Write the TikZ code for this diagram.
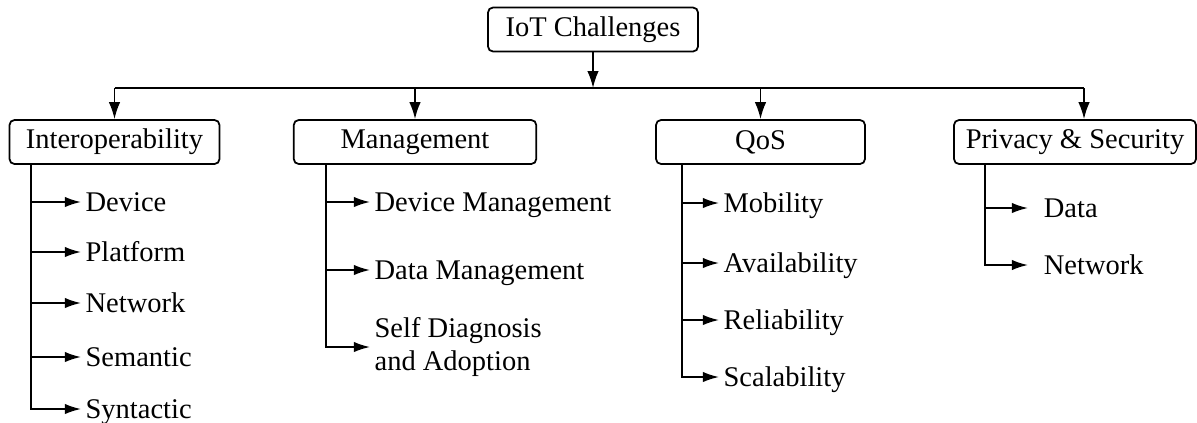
\documentclass[tikz,border=0pt]{standalone}
\usepackage{fontspec}
\setmainfont{Liberation Serif}
\usetikzlibrary{arrows.meta}
\begin{document}
\begin{tikzpicture}
	[
	x=0.4pt, y=-0.4pt,
	font=\fontsize{11.4}{13.2}\selectfont,
	line width=0.7pt,
	box/.style={draw=black, fill=white, rounded corners=2pt, minimum height=17.6pt, inner xsep=2pt},
	leaf/.style={anchor=west, inner xsep=1.5pt, text height=7.6pt, text depth=0pt},
	big/.style={-{Latex[length=6.8pt, width=4.6pt]}},
	small/.style={-{Latex[length=6.5pt, width=4.2pt]}}
	]
		\useasboundingbox (0,0) rectangle (1197,422);
		
		% top
		\node (root) [box, minimum width=84pt] at (593, 29.5) {IoT Challenges};
		\coordinate (bus) at (593, 88);
		
		% categories
		\node (iop) [box, minimum width=84pt] at 	(114.5, 142) {Interoperability};
		\node (mgt) [box, minimum width=97pt] at 	(415, 142) {Management};
		\node (qos) [box, minimum width=83.6pt] at 	(760.5, 142) {QoS};
		\node (prv) [box, minimum width=96.8pt] at 	(1075, 142) {Privacy \& Security};
		\coordinate (prvIn) at ([xshift=3.6pt]prv.north);
		
		% stems
		\coordinate (iopS) at (31, 164);
		\coordinate (mgtS) at (326, 164);
		\coordinate (qosS) at (682, 164);
		\coordinate (prvS) at (985, 164);
		
		% interoperability
		\node (i1) [leaf] at (81, 202) {Device};
		\node (i2) [leaf] at (81, 252) {Platform};
		\node (i3) [leaf] at (81, 303) {Network};
		\node (i4) [leaf] at (81, 357) {Semantic};
		\node (i5) [leaf] at (81, 409) {Syntactic};
		
		% management
		\node (m1) [leaf] at (370, 202) {Device Management};
		\node (m2) [leaf] at (370, 270) {Data Management};
		\node (m3) [leaf, align=left, text height=, text depth=] at (370, 347) {Self Diagnosis\\and Adoption};
		
		% qos
		\node (q1) [leaf] at (719, 203) {Mobility};
		\node (q2) [leaf] at (719, 263) {Availability};
		\node (q3) [leaf] at (719, 320) {Reliability};
		\node (q4) [leaf] at (719, 377) {Scalability};
		
		% privacy
		\node (p1) [leaf, inner xsep=6pt] at (1028, 208) {Data};
		\node (p2) [leaf, inner xsep=6pt] at (1028, 265) {Network};
		
		% drawing code
		\draw [big] (root.south) -- (root.south |- bus);
		\draw (iop.north |- bus) -- (prvIn |- bus);
		\foreach \to in {iop,mgt,qos} \draw [big] (\to.north |- bus) -- (\to.north);
		\draw [big] (prvIn |- bus) -- (prvIn);
		\foreach \from/\to in {iopS/i1,iopS/i2,iopS/i3,iopS/i4,iopS/i5,mgtS/m1,mgtS/m2,mgtS/m3} \draw [small] (\from) |- (\to.west);
		\foreach \from/\to in {qosS/q1,qosS/q2,qosS/q3,qosS/q4,prvS/p1,prvS/p2} \draw [small] (\from) |- (\to.west);
	\end{tikzpicture}
\end{document}
